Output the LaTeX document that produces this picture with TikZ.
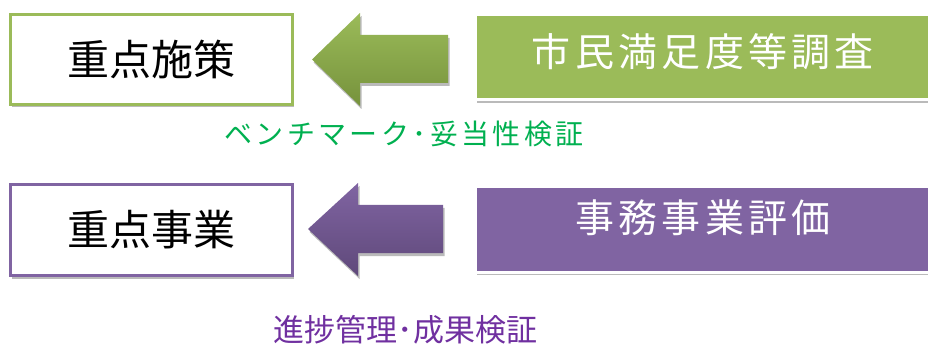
\documentclass[tikz,border=0pt]{standalone}
\usepackage{fontspec}
\setmainfont{Noto Sans CJK JP}
\usetikzlibrary{positioning, shadows}

\definecolor{survgreen}{HTML}{9BBB59}
\definecolor{survgreendark}{HTML}{76923C}
\definecolor{evalpurple}{HTML}{8064A2}
\definecolor{evalpurpledark}{HTML}{5F497A}
\definecolor{labelgreen}{HTML}{00B050}
\definecolor{labelpurple}{HTML}{7030A0}

\begin{document}
\begin{tikzpicture}[x = 1pt, y = -1pt,
  softshadow/.style = {drop shadow = {shadow xshift = 1.5pt, shadow yshift = -3pt, fill = black!45, opacity = 0.6}},
  goalbox/.style = {draw, line width = 3pt, fill = white, minimum width = 282pt, softshadow,
    font = \fontsize{42}{50}\selectfont},
  sourcebox/.style = {draw = white, line width = 3pt, minimum width = 456pt, minimum height = 85pt, softshadow,
    text = white, font = \fontsize{39}{46}\selectfont\addfontfeatures{LetterSpace=11}}
]
\useasboundingbox (0, 0) rectangle (928, 347);

% upper row
\node[goalbox, draw = survgreen, minimum height = 90pt] (policy) at (151.5, 59.5) {重点施策};
\node[sourcebox, fill = survgreen, text depth = 15pt] (survey) at (703, 57.5) {市民満足度等調査};

% lower row
\node[goalbox, draw = evalpurple, minimum height = 91pt] (project) at (151.5, 230) {重点事業};
\node[sourcebox, fill = evalpurple, text depth = 27pt] (review) at (703, 229.5) {事務事業評価};

% block arrows
\coordinate (gtip) at (312, 59.5);
\shade[top color = survgreen, bottom color = survgreendark, softshadow]
  (gtip) -- (360, 13) -- (360, 35) -- (448, 35) -- (448, 83) -- (360, 83) -- (360, 106) -- cycle;
\coordinate (ptip) at (308, 229);
\shade[top color = evalpurple, bottom color = evalpurpledark, softshadow]
  (ptip) -- (358, 183) -- (358, 205) -- (443, 205) -- (443, 253) -- (358, 253) -- (358, 276) -- cycle;

% labels
\node[text = labelgreen, font = \fontsize{28}{32}\selectfont\addfontfeatures{LetterSpace=12}] (bench) at (404, 134) {ベンチマーク･妥当性検証};
\node[text = labelpurple, font = \fontsize{31}{36}\selectfont, inner sep = 0pt, text depth = 0pt, anchor = base] (progress) at (405.5, 341) {進捗管理･成果検証};
\end{tikzpicture}
\end{document}
